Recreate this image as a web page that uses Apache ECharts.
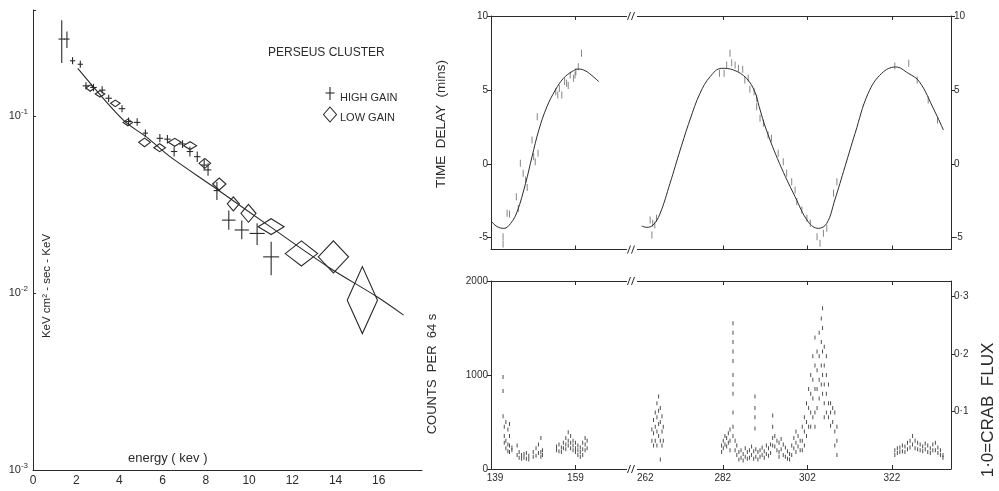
<!DOCTYPE html>
<html>
<head>
<meta charset="utf-8">
<script src="https://cdn.jsdelivr.net/npm/echarts@6/dist/echarts.min.js"></script>
<style>
  html, body { margin: 0; padding: 0; background: #fff; }
  #chart { width: 999px; height: 491px; }
</style>
</head>
<body>
<div id="chart"></div>
<script>
// ---------- left panel: Perseus cluster spectrum ----------
// [energy keV, flux, half width keV, flux top, flux bottom]
const highGain = [
  [1.33, 0.272, 0.15, 0.348, 0.199],
  [1.57, 0.272, 0.12, 0.300, 0.242],
  [1.83, 0.205, 0.12, 0.215, 0.196],
  [2.19, 0.196, 0.12, 0.205, 0.187],
  [2.45, 0.148, 0.15, 0.155, 0.141],
  [2.80, 0.145, 0.15, 0.152, 0.138],
  [3.20, 0.140, 0.15, 0.147, 0.134],
  [3.50, 0.126, 0.15, 0.132, 0.120],
  [4.12, 0.110, 0.15, 0.115, 0.105],
  [4.42, 0.093, 0.15, 0.098, 0.089],
  [4.82, 0.092, 0.15, 0.097, 0.088],
  [5.20, 0.080, 0.12, 0.084, 0.076],
  [5.87, 0.0748, 0.15, 0.079, 0.071],
  [6.22, 0.074, 0.15, 0.078, 0.070],
  [6.53, 0.063, 0.15, 0.067, 0.059],
  [6.92, 0.0695, 0.15, 0.073, 0.066],
  [7.26, 0.063, 0.15, 0.067, 0.059],
  [7.60, 0.0589, 0.15, 0.063, 0.055],
  [7.92, 0.0528, 0.15, 0.057, 0.049],
  [8.10, 0.0496, 0.15, 0.054, 0.046],
  [8.51, 0.0379, 0.15, 0.0424, 0.0335],
  [9.06, 0.0258, 0.31, 0.0292, 0.0228],
  [9.66, 0.0227, 0.33, 0.0257, 0.0201],
  [10.37, 0.0217, 0.35, 0.0248, 0.0187],
  [11.02, 0.016, 0.37, 0.0195, 0.0126]
];
const lowGain = [
  [2.65, 0.144, 0.20, 0.150, 0.138],
  [3.10, 0.133, 0.22, 0.139, 0.128],
  [3.81, 0.118, 0.22, 0.123, 0.113],
  [4.39, 0.092, 0.22, 0.096, 0.088],
  [5.16, 0.071, 0.27, 0.075, 0.067],
  [5.86, 0.0662, 0.27, 0.0697, 0.0629],
  [6.56, 0.071, 0.30, 0.0748, 0.0674],
  [7.27, 0.068, 0.30, 0.0716, 0.0646],
  [7.95, 0.054, 0.27, 0.0576, 0.0506],
  [8.62, 0.0413, 0.31, 0.0446, 0.0382],
  [9.27, 0.0319, 0.28, 0.0349, 0.0291],
  [9.97, 0.0282, 0.35, 0.0317, 0.0251],
  [11.02, 0.0237, 0.60, 0.0263, 0.0214],
  [12.42, 0.0167, 0.75, 0.0197, 0.0142],
  [13.90, 0.016, 0.70, 0.0197, 0.013],
  [15.24, 0.0091, 0.70, 0.0141, 0.0059]
];
// model curve
const fitLine = [
  [2.07, 0.186], [4.18, 0.0948], [5.26, 0.0759], [6.34, 0.0589], [8.35, 0.0398],
  [10.97, 0.0237], [13.75, 0.0138], [15.9, 0.00955], [17.15, 0.0075]
];
const energyLabels = [0, 2, 4, 6, 8, 10, 12, 14, 16];

// ---------- right panels: time delay and counts (days) ----------
const delayCurveA = [
  [138.1, -3.9], [139.5, -4.25], [141.2, -4.37], [142.9, -4.03], [144.5, -3.24],
  [146.6, -1.32], [148.2, 0.48], [149.9, 2.29], [151.9, 3.86], [154.0, 4.99],
  [156.0, 5.78], [158.1, 6.23], [159.7, 6.41], [161.4, 6.3], [163.4, 5.9], [164.8, 5.56]
];
const delayCurveB = [
  [262.8, -4.21], [264.0, -4.30], [265.5, -4.14], [267.1, -3.40], [269.5, -1.32],
  [271.9, 0.93], [274.2, 2.96], [276.6, 4.77], [279.0, 5.9], [281.7, 6.46],
  [284.5, 6.35], [287.6, 5.78], [289.6, 4.85], [290.6, 3.86], [292.3, 2.29],
  [295.4, 0.03], [299.1, -2.23], [302.2, -3.92], [304.6, -4.37], [306.6, -4.03],
  [308.5, -2.45], [310.9, -0.2], [313.3, 2.06], [316.4, 4.77], [319.6, 6.12],
  [322.9, 6.55], [325.9, 6.12], [328.5, 5.56], [332.0, 3.64], [334.2, 2.29]
];
const delayPtsA = [
  [141.0, -4.93], [141.0, -5.43], [142.0, -3.35], [142.6, -3.4], [144.3, -2.23],
  [144.8, -3.02], [145.3, 0.03], [146.0, -0.64], [146.6, -1.1], [147.0, -1.6],
  [148.2, 1.61], [148.6, 0.48], [149.0, 0.14], [149.5, 3.19], [149.7, 0.71],
  [154.1, 4.88], [154.6, 4.65], [155.0, 5.1], [155.6, 4.65], [156.3, 5.56],
  [156.8, 5.45], [157.2, 5.3], [157.7, 6.0], [158.5, 5.78], [158.9, 6.0],
  [159.1, 6.23], [159.7, 6.57], [160.5, 7.48]
];
const delayPtsB = [
  [264.8, -3.8], [265.2, -4.82], [265.4, -4.03], [265.9, -4.14], [266.3, -3.69],
  [281.2, 6.12], [282.3, 6.12], [282.9, 6.68], [283.7, 7.48], [284.1, 6.84],
  [284.9, 6.68], [285.7, 6.46], [286.7, 6.39], [287.2, 5.67], [288.0, 5.78],
  [288.4, 5.04], [289.4, 4.88], [290.0, 4.43], [290.0, 3.86], [290.8, 3.08],
  [291.6, 2.74], [292.7, 1.95], [293.5, 1.72], [295.1, 0.71], [296.3, 0.14],
  [297.1, -0.64], [298.3, -1.21], [299.1, -1.77], [299.5, -2.56], [300.7, -3.13],
  [301.9, -3.69], [302.7, -4.03], [304.3, -4.93], [305.0, -5.38], [305.8, -4.7],
  [306.6, -4.37], [308.2, -2.0], [309.0, -1.21], [322.7, 6.62], [326.0, 6.8],
  [328.0, 5.67], [330.6, 4.32], [332.8, 2.96]
];
// [day, counts, counts, ...]
const countsA = [
  [141.0, 980, 830, 560], [141.3, 450, 350, 280], [141.7, 500, 300, 220],
  [142.2, 420, 260, 190], [142.6, 480, 350, 250, 180], [143.2, 230, 200],
  [144.5, 250, 150], [145.0, 180, 120], [145.6, 150, 110], [146.2, 160, 120],
  [146.8, 170, 110], [147.4, 140, 100], [148.5, 180, 130], [149.2, 220, 140],
  [149.8, 260, 170], [150.4, 330, 180, 130], [150.8, 200, 150],
  [154.3, 240, 200], [154.9, 260, 190], [155.5, 230, 180], [156.0, 280, 220],
  [156.6, 330, 260, 210], [157.2, 390, 300, 250], [157.8, 350, 280, 220],
  [158.4, 300, 250, 200], [159.0, 280, 220, 180], [159.6, 250, 200, 150],
  [160.2, 230, 180, 130], [160.8, 280, 210, 150], [161.4, 330, 260, 200],
  [161.9, 300, 220]
];
const countsB = [
  [265.2, 420, 300], [265.6, 520, 380, 250], [266.0, 600, 450, 300],
  [266.4, 700, 550, 400, 250], [266.8, 770, 620, 480, 350], [267.2, 650, 500, 300, 100],
  [267.6, 560, 400, 250], [267.9, 450, 300],
  [281.7, 250, 180], [282.1, 300, 220], [282.5, 350, 260], [282.9, 330, 240],
  [283.3, 380, 280], [283.7, 420, 300, 200],
  [284.4, 1550, 1450, 1350, 1250, 1150, 1000, 900, 800, 600, 450, 350],
  [284.9, 300, 200], [285.3, 250, 150], [285.8, 180, 100], [286.3, 200, 120],
  [286.8, 160, 90], [287.3, 220, 130], [287.8, 180, 110], [288.3, 200, 120],
  [288.8, 240, 150], [289.3, 190, 110], [289.6, 770, 650, 550, 430],
  [289.8, 210, 130], [290.3, 180, 100], [290.8, 200, 130], [291.3, 230, 150],
  [291.8, 190, 120], [292.3, 250, 160], [292.8, 220, 140], [293.3, 260, 170],
  [293.8, 570, 450, 330, 250], [294.3, 350, 240], [294.8, 300, 200],
  [295.3, 280, 180, 130], [295.8, 320, 210], [296.3, 260, 150], [296.8, 230, 130],
  [297.3, 190, 110], [297.8, 160, 100], [298.3, 250, 150], [298.8, 330, 220],
  [299.3, 400, 280, 180], [299.8, 350, 240], [300.3, 300, 200],
  [300.8, 450, 300, 200], [301.3, 550, 400, 250], [301.8, 700, 500, 350],
  [302.3, 850, 650, 450], [302.8, 1000, 800, 600, 450], [303.3, 1200, 950, 750, 550],
  [303.8, 1400, 1100, 850, 600, 450], [304.3, 1250, 1050, 850, 650],
  [304.8, 1450, 1200, 950, 750], [305.3, 1600, 1350, 1100, 900],
  [305.6, 1710, 1500, 1250, 1000, 800], [306.0, 1300, 1100, 900, 700, 550],
  [306.5, 1200, 1000, 800, 600], [307.0, 900, 700, 550], [307.5, 700, 600, 460],
  [308.0, 650, 500], [308.5, 600, 400, 250], [309.0, 450, 300, 150],
  [322.7, 200, 150], [323.3, 220, 170], [323.9, 230, 180], [324.5, 250, 190],
  [325.1, 240, 180], [325.7, 280, 210], [326.3, 300, 230], [326.9, 350, 260],
  [327.5, 300, 220], [328.1, 280, 210], [328.7, 260, 200], [329.3, 240, 190],
  [329.9, 270, 210], [330.5, 250, 180], [331.1, 220, 170], [331.7, 260, 200],
  [332.3, 280, 200], [332.9, 230, 170], [333.5, 200, 150], [334.1, 150, 120]
];
const dayLabelsA = [139, 159];
const dayTicksA = [159];
const dayLabelsB = [262, 282, 302, 322];
const dayTicksB = [282, 302, 322];
const delayTicks = [-5, 0, 5, 10];
const countTicks = [0, 1000, 2000];
const crabTicks = [0.1, 0.2, 0.3];

const FONT = 'Liberation Sans';
const INK = '#2b2b2b';

function flatten(rows) {
    let out = [];
    rows.forEach(r => {
        for (let i = 1; i < r.length; i++) out.push([r[0], r[i]]);
    });
    return out;
}

const frameLine = {show: true, onZero: false, lineStyle: {color: INK, width: 1}};

function dayAxis(grid, pos, min, max, ticks, labels) {
    return {
        type: 'value', gridIndex: grid, position: pos, min: min, max: max,
        axisLine: frameLine,
        axisTick: {show: true, inside: true, length: 4, customValues: ticks, lineStyle: {color: INK}},
        axisLabel: labels ? {
            show: true, customValues: labels, fontFamily: FONT, fontSize: 10, color: INK, margin: 4,
            formatter: v => v === 262 ? '{r|262}' : String(v),
            rich: {r: {fontFamily: FONT, fontSize: 10, color: INK, padding: [0, 0, 0, 14]}}
        } : {show: false},
        splitLine: {show: false}
    };
}

function sideAxis(grid, pos, min, max, ticks, fmt) {
    return {
        type: 'value', gridIndex: grid, position: pos, min: min, max: max,
        axisLine: frameLine,
        axisTick: {show: true, inside: false, length: 4, customValues: ticks, lineStyle: {color: INK}},
        axisLabel: {
            customValues: ticks, fontFamily: FONT, fontSize: 10, color: INK, margin: 3,
            formatter: fmt || (v => String(v))
        },
        splitLine: {show: false}
    };
}

function renderCross(params, api) {
    const e = api.value(0), f = api.value(1), de = api.value(2);
    const l = api.coord([e - de, f]), r = api.coord([e + de, f]);
    const t = api.coord([e, api.value(3)]), b = api.coord([e, api.value(4)]);
    const st = {stroke: INK, lineWidth: 1.1};
    return {
        type: 'group', children: [
            {type: 'line', shape: {x1: l[0], y1: l[1], x2: r[0], y2: r[1]}, style: st},
            {type: 'line', shape: {x1: t[0], y1: t[1], x2: b[0], y2: b[1]}, style: st}
        ]
    };
}

function renderDiamond(params, api) {
    const e = api.value(0), f = api.value(1), de = api.value(2);
    return {
        type: 'polygon',
        shape: {points: [api.coord([e - de, f]), api.coord([e, api.value(3)]), api.coord([e + de, f]), api.coord([e, api.value(4)])]},
        style: {fill: 'none', stroke: INK, lineWidth: 1.1}
    };
}

function breakMark(x, y) {
    return [
        {type: 'rect', z: 100, shape: {x: x - 5, y: y - 2, width: 10, height: 4}, style: {fill: '#fff'}},
        {type: 'line', z: 101, shape: {x1: x - 4.5, y1: y + 4, x2: x - 1.5, y2: y - 4}, style: {stroke: INK, lineWidth: 1}},
        {type: 'line', z: 101, shape: {x1: x - 0.5, y1: y + 4, x2: x + 2.5, y2: y - 4}, style: {stroke: INK, lineWidth: 1}}
    ];
}

function vText(text, x, y, size) {
    return {
        type: 'text', x: x, y: y, rotation: Math.PI / 2,
        style: {text: text, fontFamily: FONT, fontSize: size, fill: INK, align: 'center', verticalAlign: 'middle'}
    };
}

function hText(text, x, y, size) {
    return {
        type: 'text', x: x, y: y,
        style: {text: text, fontFamily: FONT, fontSize: size, fill: INK, align: 'left', verticalAlign: 'middle'}
    };
}

let dom = document.getElementById('chart');
let myChart = echarts.init(dom);

const BX = 632;
let graphics = [
    hText('PERSEUS CLUSTER', 268, 53, 12),
    {type: 'line', shape: {x1: 330, y1: 87, x2: 330, y2: 100}, style: {stroke: INK, lineWidth: 1.1}},
    {type: 'line', shape: {x1: 325.5, y1: 93, x2: 334.5, y2: 93}, style: {stroke: INK, lineWidth: 1.1}},
    hText('HIGH GAIN', 340, 98, 11),
    {type: 'polygon', shape: {points: [[323.5, 114.5], [330, 107], [336.5, 114.5], [330, 122]]}, style: {fill: 'none', stroke: INK, lineWidth: 1.1}},
    hText('LOW GAIN', 340, 118, 11),
    hText('energy ( kev )', 128, 458, 13),
    vText('KeV cm\u00B2 - sec - KeV', 47, 286, 11.5),
    vText('TIME  DELAY  (mins)', 441, 124, 13.5),
    vText('COUNTS  PER  64 s', 432, 374, 13),
    vText('1\u00B70=CRAB  FLUX', 988, 410, 17)
].concat(breakMark(BX, 16), breakMark(BX, 249.5), breakMark(BX, 281), breakMark(BX, 469));

let option = {
    backgroundColor: '#fff',
    animation: false,
    grid: [
        {left: 33, top: 10, width: 389, height: 460, outerBoundsMode: 'none'},
        {left: 491, top: 16, width: BX - 491, height: 233.5, outerBoundsMode: 'none'},
        {left: BX, top: 16, width: 951 - BX, height: 233.5, outerBoundsMode: 'none'},
        {left: 491, top: 281, width: BX - 491, height: 188, outerBoundsMode: 'none'},
        {left: BX, top: 281, width: 951 - BX, height: 188, outerBoundsMode: 'none'}
    ],
    xAxis: [
        {
            type: 'value', gridIndex: 0, min: 0, max: 18,
            axisLine: frameLine,
            axisTick: {show: false},
            axisLabel: {customValues: energyLabels, fontFamily: FONT, fontSize: 12, color: INK, margin: 5},
            splitLine: {show: false}
        },
        dayAxis(1, 'bottom', 138, 173.06, dayTicksA, null),
        dayAxis(1, 'top', 138, 173.06, dayTicksA, null),
        dayAxis(2, 'bottom', 260.5, 336, dayTicksB, null),
        dayAxis(2, 'top', 260.5, 336, dayTicksB, null),
        dayAxis(3, 'bottom', 138, 173.06, dayTicksA, dayLabelsA),
        dayAxis(3, 'top', 138, 173.06, dayTicksA, null),
        dayAxis(4, 'bottom', 260.5, 336, dayTicksB, dayLabelsB),
        dayAxis(4, 'top', 260.5, 336, dayTicksB, null)
    ],
    yAxis: [
        {
            type: 'log', gridIndex: 0, logBase: 10, min: 0.001, max: 0.397,
            axisLine: frameLine,
            axisTick: {show: true, inside: true, length: 3, lineStyle: {color: INK}},
            minorTick: {show: false},
            axisLabel: {
                fontFamily: FONT, fontSize: 11, color: INK, margin: 5,
                formatter: function (v) {
                    let e = Math.log10(v), r = Math.round(e);
                    if (Math.abs(e - r) > 0.01) return '';
                    return '10{s|' + r + '}';
                },
                rich: {s: {fontFamily: FONT, fontSize: 8, color: INK, padding: [0, 0, 8, 0]}}
            },
            splitLine: {show: false}
        },
        sideAxis(1, 'left', -5.8, 10, delayTicks),
        sideAxis(2, 'right', -5.8, 10, delayTicks),
        sideAxis(3, 'left', 0, 2000, countTicks),
        sideAxis(4, 'right', 0, 0.327, crabTicks, v => v.toFixed(1).replace('.', '\u00B7')),
        {type: 'value', gridIndex: 4, min: 0, max: 2000, show: false}
    ],
    graphic: graphics,
    series: [
        {
            name: 'fit', type: 'line', xAxisIndex: 0, yAxisIndex: 0, data: fitLine,
            smooth: 0.3, symbol: 'none', lineStyle: {color: INK, width: 1.1}
        },
        {name: 'HIGH GAIN', type: 'custom', xAxisIndex: 0, yAxisIndex: 0, renderItem: renderCross, data: highGain},
        {name: 'LOW GAIN', type: 'custom', xAxisIndex: 0, yAxisIndex: 0, renderItem: renderDiamond, data: lowGain},
        {
            type: 'line', xAxisIndex: 1, yAxisIndex: 1, data: delayCurveA, smooth: 0.4,
            symbol: 'none', lineStyle: {color: INK, width: 1}
        },
        {
            type: 'line', xAxisIndex: 3, yAxisIndex: 2, data: delayCurveB, smooth: 0.4,
            symbol: 'none', lineStyle: {color: INK, width: 1}
        },
        {
            type: 'scatter', xAxisIndex: 1, yAxisIndex: 1, data: delayPtsA,
            symbol: 'rect', symbolSize: [1, 7], itemStyle: {color: '#666'}
        },
        {
            type: 'scatter', xAxisIndex: 3, yAxisIndex: 2, data: delayPtsB,
            symbol: 'rect', symbolSize: [1, 7], itemStyle: {color: '#666'}
        },
        {
            type: 'scatter', xAxisIndex: 5, yAxisIndex: 3, data: flatten(countsA),
            symbol: 'rect', symbolSize: [1, 4], itemStyle: {color: '#222'}
        },
        {
            type: 'scatter', xAxisIndex: 7, yAxisIndex: 5, data: flatten(countsB),
            symbol: 'rect', symbolSize: [1, 4], itemStyle: {color: '#222'}
        }
    ]
};
if (option && typeof option === 'object') {
    myChart.setOption(option, true);
}
</script>
</body>
</html>
